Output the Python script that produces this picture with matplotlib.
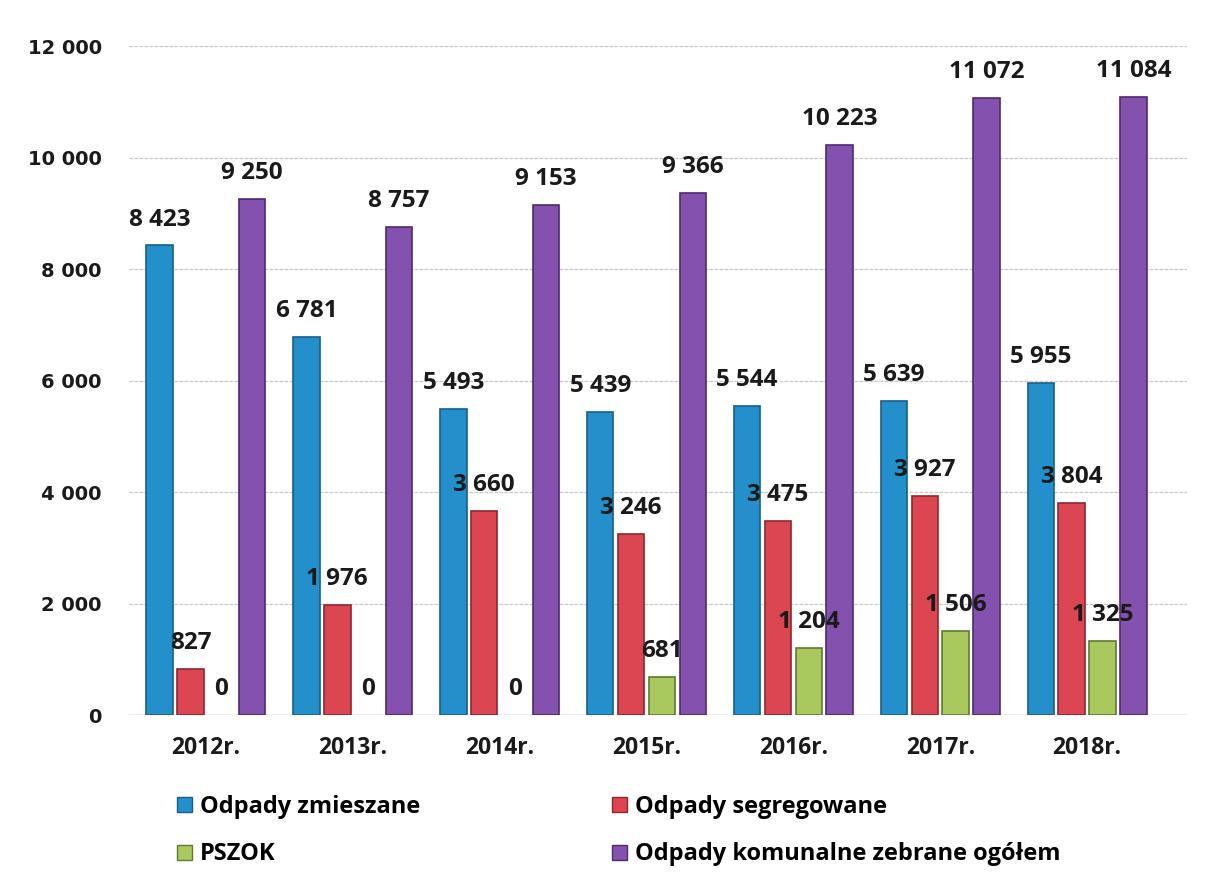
import matplotlib
matplotlib.use("Agg")
import matplotlib.pyplot as plt
from matplotlib.patches import Patch
import numpy as np

years = ["2012r.", "2013r.", "2014r.", "2015r.", "2016r.", "2017r.", "2018r."]
zmieszane = [8423, 6781, 5493, 5439, 5544, 5639, 5955]
segregowane = [827, 1976, 3660, 3246, 3475, 3927, 3804]
pszok = [0, 0, 0, 681, 1204, 1506, 1325]
ogolem = [9250, 8757, 9153, 9366, 10223, 11072, 11084]

series_names = ["Odpady zmieszane", "Odpady segregowane", "PSZOK",
                "Odpady komunalne zebrane ogółem"]
fills = ["#2390cb", "#dc4653", "#a9c95e", "#8452ae"]
edges = ["#165f8c", "#8f2630", "#5f7a2c", "#4f2a72"]

FONT = ["Open Sans", "DejaVu Sans"]

fig = plt.figure(figsize=(12.1, 8.85), dpi=100)
ax = fig.add_axes([0.107, 0.192, 0.874, 0.756])

x = np.arange(len(years))
width = 0.18
step = 0.21
offsets = [-1.5 * step, -0.5 * step, 0.5 * step, 1.5 * step]
data = [zmieszane, segregowane, pszok, ogolem]

lab_font = dict(family=FONT, fontweight="bold", fontsize=17.5, color="#1a1a1a")

def fmt(v):
    return f"{int(v):,}".replace(",", " ")

for vals, off, fc, ec in zip(data, offsets, fills, edges):
    ecs = [ec if v > 0 else "none" for v in vals]
    bars = ax.bar(x + off, vals, width=width, color=fc, edgecolor=ecs, linewidth=1.2, zorder=3)
    for b, v in zip(bars, vals):
        ax.annotate(fmt(v), (b.get_x() + b.get_width() / 2, v), xytext=(0, 10),
                    textcoords="offset points", ha="center", va="bottom", zorder=4, **lab_font)

ax.set_xlim(-0.52, 6.68)
ax.set_ylim(0, 12000)
ax.grid(axis="y", color="#c8c8c8", linewidth=0.9, linestyle=(0, (3, 1)), zorder=0)
for s in ax.spines.values():
    s.set_visible(False)
ax.tick_params(axis="y", length=0, pad=20)
ax.tick_params(axis="x", length=0, pad=15)
yt = np.arange(0, 12001, 2000)
ax.set_yticks(yt)
ax.set_yticklabels([fmt(v) for v in yt],
                   family=["DejaVu Sans"], fontweight="bold", fontsize=14, color="#1a1a1a")
ax.set_xticks(x)
ax.set_xticklabels(years, family=FONT, fontweight="bold", fontsize=16.5, color="#1a1a1a")
ax.axhline(0, color="#bfbfbf", linewidth=1, zorder=1)

handles = [Patch(facecolor=fills[i], edgecolor=edges[i], label=series_names[i]) for i in range(4)]
order = [0, 2, 1, 3]
fig.legend([handles[i] for i in order], [series_names[i] for i in order],
           ncol=2, loc="upper left", bbox_to_anchor=(0.129, 0.126),
           frameon=False, handlelength=0.6, handleheight=0.6, handletextpad=0.35,
           columnspacing=8.15, labelspacing=1.0,
           prop=dict(family=FONT, weight="bold", size=17))

fig.savefig("out.png", dpi=100)
